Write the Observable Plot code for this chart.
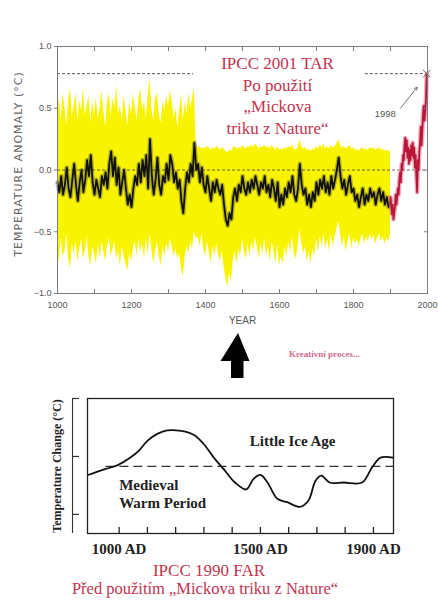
<!DOCTYPE html>
<html><head><meta charset="utf-8">
<script src="https://cdn.jsdelivr.net/npm/d3@7"></script>
<script src="https://cdn.jsdelivr.net/npm/@observablehq/plot@0.6"></script>
<style>
body{margin:0;background:#fff}
#wrap{position:relative;width:438px;height:604px;overflow:hidden;background:#fff}
#top{position:absolute;left:0;top:0}
#bot{position:absolute;left:0;top:385px}
.t{position:absolute;font-family:"Liberation Serif","Times New Roman",serif;color:#c2334f;text-align:center;white-space:nowrap}
</style></head><body>
<div id="wrap">
<div id="top"></div>
<svg width="40" height="52" style="position:absolute;left:215px;top:330px"><polygon points="23,3 5.5,31 16,31 16,48 28.5,48 28.5,31 34.5,31" fill="#000"/></svg>
<div class="t" style="left:289px;top:349px;font-size:9px;font-weight:bold;color:#cc5078;opacity:.85">Kreativní proces...</div>
<div id="bot"></div>
<div class="t" style="left:0;width:418px;top:561px;font-size:17px;line-height:19px">IPCC 1990 FAR</div>
<div class="t" style="left:0;width:410px;top:579px;font-size:16.5px;line-height:19px">Před použitím „Mickova triku z Nature“</div>
</div>
<script>
// ---------- IPCC 2001 TAR (top) ----------
// reconstruction, 5-year steps 1000..1900
const reconStart = 1000, reconEnd = 1900, reconStep = 5;
const recon = [
 -0.10,-0.18,-0.05,-0.20,-0.12,0.02,-0.15,-0.22,-0.08,0.05,-0.12,-0.25,-0.10,0.00,-0.18,-0.08,0.08,-0.05,0.12,-0.10,
 -0.20,-0.08,-0.15,-0.22,-0.05,-0.12,-0.02,-0.15,0.05,0.15,-0.05,0.10,-0.12,0.02,-0.20,-0.10,0.00,-0.15,-0.28,-0.20,
 -0.30,-0.15,-0.05,-0.12,0.05,-0.10,0.08,-0.05,0.12,-0.15,0.25,-0.05,-0.20,-0.08,0.10,-0.12,-0.20,-0.05,-0.10,0.05,
 -0.08,0.12,0.05,-0.10,-0.02,-0.15,-0.08,-0.25,-0.35,-0.15,-0.02,-0.10,0.05,-0.05,0.22,0.00,0.05,-0.10,0.02,-0.12,
 -0.18,-0.05,-0.15,-0.25,-0.10,-0.18,-0.08,-0.15,-0.20,-0.12,-0.28,-0.40,-0.45,-0.35,-0.40,-0.22,-0.15,-0.25,-0.12,-0.18,
 -0.05,-0.15,-0.20,-0.10,-0.18,-0.08,-0.15,-0.05,-0.12,-0.20,-0.10,-0.15,-0.05,-0.18,-0.12,-0.22,-0.08,-0.15,-0.25,-0.10,
 -0.30,-0.20,-0.28,-0.15,-0.22,-0.10,-0.18,-0.05,-0.20,-0.25,-0.15,0.05,-0.12,-0.20,-0.15,-0.28,-0.20,-0.30,-0.18,-0.25,
 -0.10,-0.20,-0.08,-0.15,-0.05,-0.18,-0.10,-0.20,-0.05,-0.15,-0.08,0.00,0.10,-0.05,-0.15,-0.08,-0.20,-0.12,-0.05,-0.18,
 -0.15,-0.25,-0.20,-0.30,-0.22,-0.15,-0.28,-0.20,-0.25,-0.15,-0.22,-0.18,-0.28,-0.20,-0.15,-0.25,-0.18,-0.28,-0.22,-0.30,
 -0.25
];
const bandHigh = [
 0.45,0.58,0.40,0.62,0.50,0.36,0.56,0.66,0.44,0.52,0.62,0.40,0.56,0.48,0.66,0.44,0.52,0.60,0.38,0.55,
 0.45,0.58,0.42,0.50,0.64,0.48,0.35,0.55,0.62,0.44,0.58,0.50,0.68,0.45,0.52,0.40,0.60,0.48,0.36,0.55,
 0.45,0.62,0.50,0.40,0.58,0.66,0.48,0.55,0.42,0.60,0.74,0.50,0.40,0.58,0.62,0.45,0.38,0.55,0.48,0.60,
 0.52,0.64,0.56,0.42,0.50,0.35,0.48,0.62,0.40,0.55,0.45,0.62,0.50,0.58,0.66,0.20,0.18,0.19,0.17,0.18,
 0.17,0.19,0.18,0.16,0.18,0.17,0.19,0.18,0.16,0.18,0.17,0.15,0.14,0.16,0.15,0.18,0.19,0.17,0.18,0.17,
 0.20,0.18,0.17,0.19,0.18,0.20,0.18,0.21,0.19,0.17,0.19,0.18,0.20,0.18,0.19,0.17,0.20,0.18,0.16,0.19,
 0.16,0.17,0.16,0.18,0.17,0.19,0.18,0.20,0.17,0.16,0.18,0.24,0.19,0.17,0.18,0.16,0.17,0.15,0.17,0.16,
 0.19,0.17,0.20,0.18,0.21,0.17,0.19,0.17,0.20,0.18,0.19,0.21,0.25,0.20,0.18,0.19,0.17,0.18,0.20,0.17,
 0.18,0.16,0.17,0.15,0.17,0.18,0.16,0.17,0.16,0.18,0.17,0.18,0.16,0.17,0.18,0.16,0.17,0.15,0.16,0.15,
 0.16
];
const bandLow = [
 -0.62,-0.75,-0.55,-0.70,-0.66,-0.52,-0.72,-0.80,-0.60,-0.68,-0.58,-0.74,-0.64,-0.56,-0.72,-0.66,-0.54,-0.70,-0.78,-0.62,
 -0.68,-0.76,-0.60,-0.72,-0.58,-0.66,-0.74,-0.62,-0.55,-0.70,-0.64,-0.58,-0.72,-0.66,-0.78,-0.62,-0.70,-0.76,-0.82,-0.68,
 -0.74,-0.64,-0.58,-0.70,-0.56,-0.66,-0.60,-0.72,-0.55,-0.68,-0.52,-0.64,-0.76,-0.66,-0.58,-0.70,-0.78,-0.62,-0.70,-0.60,
 -0.66,-0.56,-0.62,-0.70,-0.64,-0.72,-0.68,-0.80,-0.86,-0.70,-0.62,-0.68,-0.58,-0.64,-0.50,-0.56,-0.54,-0.62,-0.52,-0.64,
 -0.70,-0.58,-0.66,-0.76,-0.62,-0.70,-0.60,-0.68,-0.74,-0.66,-0.78,-0.88,-0.95,-0.84,-0.90,-0.74,-0.66,-0.76,-0.64,-0.70,
 -0.56,-0.66,-0.72,-0.60,-0.70,-0.58,-0.66,-0.55,-0.62,-0.72,-0.60,-0.68,-0.55,-0.70,-0.62,-0.74,-0.58,-0.66,-0.76,-0.60,
 -0.78,-0.70,-0.76,-0.62,-0.70,-0.58,-0.66,-0.54,-0.68,-0.72,-0.62,-0.48,-0.60,-0.68,-0.62,-0.74,-0.66,-0.76,-0.64,-0.70,
 -0.56,-0.66,-0.54,-0.62,-0.52,-0.64,-0.56,-0.66,-0.52,-0.62,-0.54,-0.48,-0.42,-0.52,-0.62,-0.55,-0.66,-0.58,-0.52,-0.64,
 -0.55,-0.60,-0.56,-0.62,-0.56,-0.52,-0.60,-0.54,-0.58,-0.52,-0.56,-0.53,-0.60,-0.55,-0.52,-0.58,-0.54,-0.60,-0.55,-0.58,
 -0.52
];
// instrumental record (red)
const instrYears = [1900,1902,1904,1906,1908,1910,1912,1914,1916,1918,1920,1922,1924,1926,1928,1930,1932,1934,1936,1938,
 1940,1942,1944,1946,1948,1950,1952,1954,1956,1958,1960,1962,1964,1966,1968,1970,1972,1974,1976,1978,
 1980,1982,1984,1986,1988,1990,1992,1994,1996,1998];
const instrValues = [-0.22,-0.30,-0.36,-0.28,-0.40,-0.35,-0.30,-0.20,-0.28,-0.22,-0.15,-0.20,-0.08,-0.02,-0.10,0.05,0.00,0.12,0.08,0.20,
 0.26,0.15,0.24,0.10,0.18,0.05,0.16,0.08,0.20,0.12,0.22,0.10,0.18,0.02,0.12,-0.05,-0.18,0.08,0.00,0.15,
 0.22,0.35,0.20,0.32,0.45,0.52,0.40,0.48,0.58,0.78];
const refSpans = [{from: 1000, to: 1368, level: 0.78}, {from: 1832, to: 1996, level: 0.78}];
const marker1998 = [{year: 1998, v: 0.78}];
const note1998 = [{year: 1886, v: 0.45, label: "1998"}];
const note1998Arrow = [{x1: 1927, y1: 0.50, x2: 1972, y2: 0.67}];
const topTitle = "IPCC 2001 TAR\nPo použití\n„Mickova\ntriku z Nature“";
const xLabelTicks = [1000, 1200, 1400, 1600, 1800, 2000];
const xMinorTicks = [1100, 1200, 1300, 1400, 1500, 1600, 1700, 1800, 1900];
const yTicks = [-1, -0.5, 0, 0.5, 1];

// ---------- IPCC 1990 FAR (bottom) ----------
const farYears = [890, 950, 995, 1040, 1070, 1100, 1135, 1170, 1220, 1265, 1300, 1335, 1370, 1410, 1450,
 1475, 1500, 1525, 1560, 1595, 1640, 1670, 1695, 1715, 1745, 1795, 1860, 1895, 1925, 1970];
const farValues = [-0.32, -0.22, -0.15, -0.02, 0.10, 0.27, 0.39, 0.45, 0.44, 0.37, 0.21, -0.02, -0.22, -0.45, -0.57,
 -0.39, -0.32, -0.45, -0.73, -0.79, -0.87, -0.76, -0.42, -0.33, -0.45, -0.45, -0.45, -0.19, -0.02, -0.02];
const farDomain = [888, 1971];
const farBaseline = [{from: 953, to: 1971, level: -0.17}];
const farTicks = [1000, 1100, 1200, 1300, 1400, 1500, 1600, 1700, 1800, 1900];
const farLabelTicks = [1000, 1500, 1900];
const farNoteLIA = [{year: 1614, v: 0.27, label: "Little Ice Age"}];
const farNoteMWP = [{year: 1000, v: -0.64, label: "Medieval\nWarm Period"}];

const years = d3.range(reconStart, reconEnd + 1, reconStep);
const rows = years.map((year, i) => ({year, v: recon[i], lo: bandLow[i], hi: bandHigh[i]}));
const instr = instrYears.map((year, i) => ({year, v: instrValues[i]}));
const far = farYears.map((year, i) => ({year, v: farValues[i]}));

const gray = "#7d7d7d";
const topPlot = Plot.plot({
  width: 438, height: 330,
  marginLeft: 57, marginRight: 11, marginTop: 46, marginBottom: 37,
  x: {domain: [1000, 2000], label: null},
  y: {domain: [-1, 1], label: null},
  style: {fontFamily: '"Liberation Sans", Arial, sans-serif', fontSize: "9px", color: "#555", background: "transparent"},
  marks: [
    Plot.areaY(rows, {x: "year", y1: "lo", y2: "hi", fill: "#f8f400"}),
    Plot.ruleY([0], {stroke: "#444", strokeWidth: 0.8, strokeDasharray: "3,2"}),
    Plot.ruleY(refSpans, {y: "level", x1: "from", x2: "to", stroke: "#555", strokeWidth: 1, strokeDasharray: "3,2"}),
    Plot.lineY(rows, {x: "year", y: "v", stroke: "#333", strokeWidth: 4.5, strokeOpacity: 0.35}),
    Plot.lineY(rows, {x: "year", y: "v", stroke: "#111", strokeWidth: 1.8}),
    Plot.lineY(instr, {x: "year", y: "v", stroke: "#e07890", strokeWidth: 4.5, strokeOpacity: 0.6}),
    Plot.lineY(instr, {x: "year", y: "v", stroke: "#b8173a", strokeWidth: 1.8}),
    Plot.dot(marker1998, {x: "year", y: "v", symbol: "times", r: 3.5, stroke: "#666", strokeWidth: 1}),
    Plot.arrow(note1998Arrow, {x1: "x1", y1: "y1", x2: "x2", y2: "y2", stroke: "#666", strokeWidth: 0.9, headLength: 5}),
    Plot.text(note1998, {x: "year", y: "v", text: "label", fontSize: 9.5, fill: "#555"}),
    Plot.text([topTitle], {text: d => d, frameAnchor: "top", dx: 35, dy: 7, lineAnchor: "top", fontSize: 17, lineHeight: 1.28,
      fontFamily: '"Liberation Serif", "Times New Roman", serif', fill: "#c2334f"}),
    Plot.frame({stroke: gray, strokeWidth: 1}),
    Plot.axisX({anchor: "bottom", ticks: xMinorTicks, tickSize: -4, tickFormat: () => "", stroke: gray}),
    Plot.axisX({anchor: "bottom", ticks: xLabelTicks, tickSize: 0, tickPadding: 8, tickFormat: d => String(d), fill: "#555", fontSize: 9}),
    Plot.axisX({anchor: "top", ticks: xMinorTicks, tickSize: -4, tickFormat: () => "", stroke: gray}),
    Plot.axisY({anchor: "left", ticks: yTicks, tickSize: 3, tickPadding: 3, tickFormat: d3.format(".1f"), stroke: gray, fill: "#555", fontSize: 9}),
    Plot.axisY({anchor: "right", ticks: yTicks, tickSize: -4, tickFormat: () => "", stroke: gray}),
    Plot.text(["YEAR"], {text: d => d, frameAnchor: "bottom", dy: 30, fontSize: 10, fill: "#555"}),
    Plot.text(["TEMPERATURE ANOMALY (°C)"], {text: d => d, frameAnchor: "left", textAnchor: "middle", rotate: -90, dx: -39, dy: -6,
      fontSize: 11, fill: "#666", fontFamily: '"DejaVu Sans", sans-serif'})
  ]
});
document.getElementById("top").append(topPlot);
topPlot.querySelectorAll("text").forEach(t => { if (t.textContent.startsWith("TEMPERATURE")) t.setAttribute("letter-spacing", "1"); });

const botPlot = Plot.plot({
  width: 438, height: 175,
  marginLeft: 87, marginRight: 45, marginTop: 13, marginBottom: 27,
  x: {domain: farDomain, label: null},
  y: {domain: [-1.33, 1], label: null},
  style: {fontFamily: '"Liberation Serif", "Times New Roman", serif', fontWeight: "bold", fontSize: "15px", color: "#222", background: "transparent"},
  marks: [
    Plot.ruleY(farBaseline, {y: "level", x1: "from", x2: "to", stroke: "#333", strokeWidth: 1.2, strokeDasharray: "9,5"}),
    Plot.line(far, {x: "year", y: "v", curve: "catmull-rom", stroke: "#111", strokeWidth: 1.8}),
    Plot.text(farNoteLIA, {x: "year", y: "v", text: "label", fontSize: 15, fill: "#222"}),
    Plot.text(farNoteMWP, {x: "year", y: "v", text: "label", textAnchor: "start", lineHeight: 1.18, fontSize: 15, fill: "#222"}),
    Plot.frame({stroke: "#222", strokeWidth: 1.3}),
    Plot.axisX({anchor: "bottom", ticks: farTicks, tickSize: -6, tickFormat: () => "", stroke: "#222", strokeWidth: 1.3}),
    Plot.axisX({anchor: "bottom", ticks: farLabelTicks, tickSize: 0, tickPadding: 10, tickFormat: d => `${d} AD`, fontSize: 15, fill: "#222"}),
    Plot.ruleX([farDomain[0]], {dx: -15, stroke: "#333", strokeWidth: 1.1}),
    Plot.axisY({anchor: "left", ticks: [-1, 0, 1], tickSize: -7, tickFormat: () => "", dx: -15, stroke: "#333", strokeWidth: 1.2}),
    Plot.text(["Temperature Change (°C)"], {text: d => d, frameAnchor: "left", textAnchor: "middle", rotate: -90, dx: -30, fontSize: 12, fill: "#222"})
  ]
});
document.getElementById("bot").append(botPlot);
</script>
</body></html>
